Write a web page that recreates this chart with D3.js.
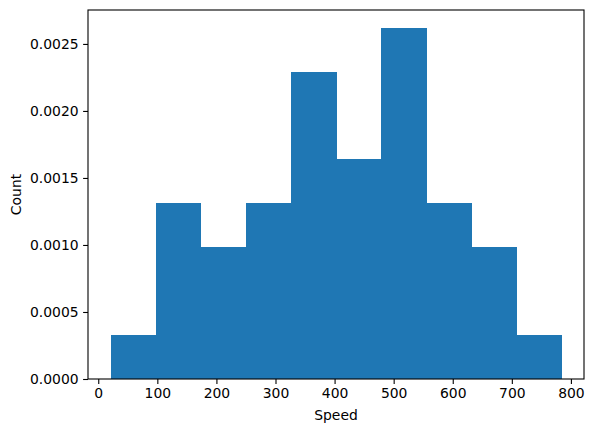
<!DOCTYPE html>
<meta charset="utf-8">
<style>
	body{ margin:0; background:#fff; }
	text{ font-family:"DejaVu Sans", sans-serif; fill:#000; }
	.tick text{ font-size:13.9px; }
	.lbl{ font-size:13.9px; }
	.bar{ shape-rendering:crispEdges; }
</style>
<body>
<svg width="593" height="432" id="chart"></svg>
<script src="https://cdn.jsdelivr.net/npm/d3@7"></script>
<script>
	// bin edges of the Speed histogram
	var binEdges = [20.8, 97.1, 173.5, 249.8, 326.1, 402.4, 478.7, 555.0, 631.4, 707.7, 784.0];
	// bar heights (density)
	var densities = [0.000328, 0.001311, 0.000983, 0.001311, 0.002294, 0.001638, 0.002622, 0.001311, 0.000983, 0.000328];
	var xTicks = [0, 100, 200, 300, 400, 500, 600, 700, 800];
	var yTicks = [0, 0.0005, 0.0010, 0.0015, 0.0020, 0.0025];

	var svg = d3.select("#chart");
	// plot area (window.top is reserved, so m.* instead)
	var m = {left:88, right:584, top:10, bottom:379};

	var span = binEdges[binEdges.length-1] - binEdges[0];
	var x = d3.scaleLinear()
		.domain([binEdges[0] - span*0.05, binEdges[binEdges.length-1] + span*0.05])
		.range([m.left, m.right]);
	var y = d3.scaleLinear()
		.domain([0, d3.max(densities)*1.05])
		.range([m.bottom, m.top]);

	var bins = densities.map(function(d, i){ return {x0:binEdges[i], x1:binEdges[i+1], v:d}; });

	svg.selectAll("rect.bar")
		.data(bins)
		.enter().append("rect")
		.attr("class", "bar")
		.attr("x", function(d){ return x(d.x0); })
		.attr("width", function(d){ return x(d.x1) - x(d.x0) + 0.5; })
		.attr("y", function(d){ return y(d.v); })
		.attr("height", function(d){ return y(0) - y(d.v); })
		.attr("fill", "#1f77b4");

	var xAxis = svg.append("g")
		.attr("transform", "translate(0," + m.bottom + ")")
		.call(d3.axisBottom(x).tickValues(xTicks).tickFormat(d3.format("d")).tickSize(4.9).tickPadding(4));
	var yAxis = svg.append("g")
		.attr("transform", "translate(" + m.left + ",0)")
		.call(d3.axisLeft(y).tickValues(yTicks).tickFormat(d3.format(".4f")).tickSize(4.9).tickPadding(4.5));
	[xAxis, yAxis].forEach(function(g){
		g.select(".domain").remove();
		g.selectAll(".tick line").attr("stroke", "#000").attr("stroke-width", 1.1);
		g.selectAll(".tick text").attr("fill", "#000");
	});

	// frame
	svg.append("rect")
		.attr("x", m.left).attr("y", m.top)
		.attr("width", m.right - m.left).attr("height", m.bottom - m.top)
		.attr("fill", "none").attr("stroke", "#000").attr("stroke-width", 1.1);

	svg.append("text").attr("class", "lbl")
		.attr("x", (m.left + m.right)/2).attr("y", 420)
		.attr("text-anchor", "middle").text("Speed");
	svg.append("text").attr("class", "lbl")
		.attr("transform", "translate(21," + (m.top + m.bottom)/2 + ") rotate(-90)")
		.attr("text-anchor", "middle").text("Count");
</script>
</body>
